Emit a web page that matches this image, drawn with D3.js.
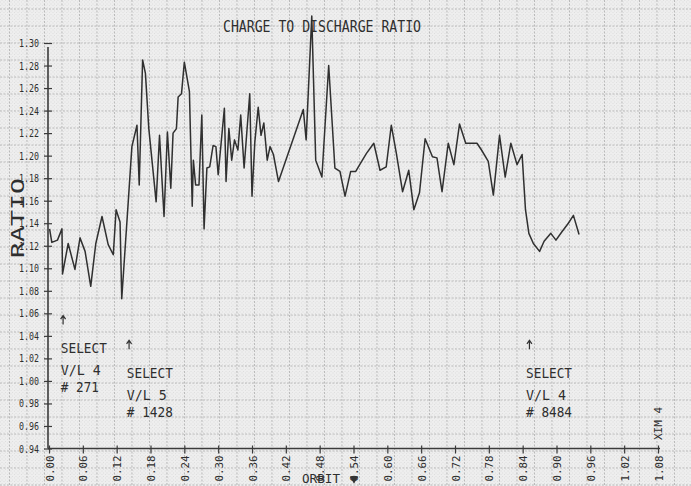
<!DOCTYPE html>
<html>
<head>
<meta charset="utf-8">
<script src="https://cdn.jsdelivr.net/npm/d3@7"></script>
<style>
  html, body { margin: 0; padding: 0; background: #eeeeee; }
  svg { display: block; }
  text { font-family: "DejaVu Sans Mono", "Liberation Mono", monospace; fill: #2e2e2e; }
</style>
</head>
<body>
<svg id="chart" width="691" height="486"></svg>
<script>
// ---------------- data ----------------
const orbit = [0.001,0.005,0.015,0.023,0.024,0.034,0.046,0.055,0.064,0.074,0.083,0.094,0.105,0.114,0.119,0.126,0.129,0.140,0.147,0.156,
  0.160,0.166,0.171,0.177,0.190,0.196,0.204,0.210,0.216,0.220,0.226,0.229,0.235,0.240,0.249,0.254,0.256,0.260,0.266,0.271,
  0.275,0.280,0.285,0.291,0.296,0.300,0.311,0.314,0.319,0.324,0.329,0.335,0.340,0.346,0.356,0.360,0.365,0.371,0.376,0.381,
  0.387,0.392,0.398,0.407,0.451,0.456,0.466,0.473,0.484,0.496,0.507,0.516,0.525,0.535,0.544,0.551,0.563,0.576,0.587,0.598,
  0.607,0.616,0.627,0.638,0.647,0.657,0.667,0.680,0.688,0.697,0.708,0.718,0.728,0.739,0.759,0.767,0.779,0.788,0.799,0.809,
  0.819,0.830,0.839,0.845,0.851,0.859,0.870,0.878,0.890,0.899,0.909,0.921,0.930,0.940];
const ratio = [1.135,1.123,1.125,1.135,1.095,1.122,1.099,1.127,1.115,1.084,1.122,1.146,1.121,1.112,1.152,1.141,1.073,1.155,1.208,1.227,
  1.174,1.285,1.273,1.224,1.159,1.218,1.146,1.221,1.171,1.220,1.224,1.252,1.255,1.283,1.257,1.155,1.196,1.174,1.174,1.236,
  1.135,1.189,1.190,1.209,1.208,1.183,1.242,1.177,1.224,1.196,1.214,1.205,1.236,1.189,1.255,1.164,1.212,1.243,1.218,1.229,
  1.196,1.208,1.201,1.177,1.241,1.214,1.324,1.196,1.181,1.280,1.189,1.186,1.164,1.186,1.186,1.192,1.202,1.211,1.187,1.190,
  1.227,1.202,1.168,1.187,1.152,1.167,1.215,1.199,1.198,1.168,1.211,1.192,1.228,1.211,1.211,1.205,1.195,1.165,1.218,1.181,
  1.211,1.192,1.201,1.152,1.131,1.122,1.115,1.124,1.131,1.125,1.132,1.140,1.147,1.130];
const yTicks = [0.94,0.96,0.98,1.00,1.02,1.04,1.06,1.08,1.10,1.12,1.14,1.16,1.18,1.20,1.22,1.24,1.26,1.28,1.30];
const xTicks = [0.00,0.06,0.12,0.18,0.24,0.30,0.36,0.42,0.48,0.54,0.60,0.66,0.72,0.78,0.84,0.90,0.96,1.02,1.08];
const titleText = "CHARGE TO DISCHARGE RATIO";
const yLabel = "RATIO";
const xLabel = "ORBIT";
const noteLines = [["SELECT","V/L 4","# 271"],["SELECT","V/L 5","# 1428"],["SELECT","V/L 4","# 8484"]];
const sideNote = "XIM 4";

// ---------------- layout ----------------
const W = 691, H = 486;
const svg = d3.select("#chart");
const x = d3.scaleLinear().domain([0, 1.08]).range([49, 658]);
const y = d3.scaleLinear().domain([0.94, 1.30]).range([448.5, 43]);

// paper background
svg.append("rect").attr("width", W).attr("height", H).attr("fill", "#eeeeee");
const paper = svg.append("g");
const fine = 3.5, gridStep = 17.5;
paper.selectAll("line.fv").data(d3.range(2, W, fine)).join("line")
  .attr("x1", d => d).attr("x2", d => d).attr("y1", 0).attr("y2", H)
  .attr("stroke", "#d4d4d4").attr("stroke-width", 0.6).attr("stroke-dasharray", "1,2.5");
paper.selectAll("line.fh").data(d3.range(2, H, fine)).join("line")
  .attr("y1", d => d).attr("y2", d => d).attr("x1", 0).attr("x2", W)
  .attr("stroke", "#d4d4d4").attr("stroke-width", 0.6).attr("stroke-dasharray", "1,2.5");
paper.selectAll("line.mv").data(d3.range(9.5, W, gridStep)).join("line")
  .attr("x1", d => d).attr("x2", d => d).attr("y1", 0).attr("y2", H)
  .attr("stroke", "#b4b4b4").attr("stroke-width", 0.9).attr("stroke-dasharray", "2,1.5");
paper.selectAll("line.mh").data(d3.range(9, H, 17)).join("line")
  .attr("y1", d => d).attr("y2", d => d).attr("x1", 0).attr("x2", W)
  .attr("stroke", "#b4b4b4").attr("stroke-width", 0.9).attr("stroke-dasharray", "2,1.5");

// axes
const axisColor = "#3a3a3a";
const gy = svg.append("g").attr("transform", `translate(${x(0) - 1},0)`)
  .call(d3.axisLeft(y).tickValues(yTicks).tickFormat(d3.format(".2f")).tickSize(4).tickPadding(5));
gy.select(".domain").attr("stroke", axisColor).attr("stroke-width", 1.6).attr("d", `M0,${y(1.30) + 4}V${y(0.94)}`);
gy.selectAll(".tick line").attr("x1", -4).attr("x2", 4).attr("stroke", axisColor).attr("stroke-width", 1.2);
gy.selectAll(".tick text").attr("font-size", 11).attr("textLength", 20).attr("lengthAdjust", "spacingAndGlyphs")
  .attr("fill", "#333").attr("font-family", "DejaVu Sans Mono");

const gx = svg.append("g").attr("transform", `translate(0,${y(0.94)})`)
  .call(d3.axisBottom(x).tickValues(xTicks).tickFormat(d3.format(".2f")).tickSize(4));
gx.select(".domain").attr("stroke", axisColor).attr("stroke-width", 1.6).attr("d", `M${x(0) - 1},0H${x(1.08) + 2}`);
gx.selectAll(".tick line").attr("y1", -3).attr("y2", 5).attr("stroke", axisColor).attr("stroke-width", 1.2);
gx.selectAll(".tick text")
  .attr("transform", "translate(4,33) rotate(-90)")
  .attr("y", 0).attr("dy", 0).attr("text-anchor", "start")
  .attr("font-size", 11).attr("textLength", 26).attr("lengthAdjust", "spacingAndGlyphs")
  .attr("fill", "#333").attr("font-family", "DejaVu Sans Mono");

// data line
const line = d3.line().x((d, i) => x(orbit[i])).y((d, i) => y(ratio[i]));
svg.append("path").datum(ratio).attr("d", line)
  .attr("fill", "none").attr("stroke", "#303030").attr("stroke-width", 1.5).attr("stroke-linejoin", "round");

// title
svg.append("text").attr("x", 223).attr("y", 31.5).text(titleText)
  .attr("font-size", 15).attr("textLength", 198).attr("lengthAdjust", "spacingAndGlyphs");

// y label
svg.append("text").attr("transform", `translate(24,258) rotate(-90)`).text(yLabel)
  .attr("font-size", 17).attr("textLength", 80).attr("lengthAdjust", "spacingAndGlyphs");

// x label
svg.append("text").attr("x", 302).attr("y", 483).text(xLabel)
  .attr("font-size", 13).attr("textLength", 38).attr("lengthAdjust", "spacingAndGlyphs");
svg.append("path").attr("d", d3.symbol(d3.symbolTriangle, 30)())
  .attr("transform", `translate(${x(0.54) + 0.5},479) rotate(180)`).attr("fill", "#333");

// SELECT annotations (anchored to orbit positions, ratio rows)
const noteAnchors = [[0.021, 1.025], [0.138, 1.003], [0.846, 1.003]];
const arrowAt = [[0.025, 1.058], [0.142, 1.036], [0.852, 1.036]];
noteLines.forEach((lines, k) => {
  const [ox, oy] = noteAnchors[k];
  const gx0 = x(ox), gy0 = y(oy);
  const widths = [46, 40, k === 0 ? 38 : 46];
  lines.forEach((t, j) => {
    svg.append("text").attr("x", gx0).attr("y", gy0 + j * 22 + (j === 2 ? -5 : 0))
      .text(t).attr("font-size", 13.5).attr("textLength", widths[j]).attr("lengthAdjust", "spacingAndGlyphs");
  });
  const ax = x(arrowAt[k][0]), ay = y(arrowAt[k][1]);
  svg.append("path").attr("d", `M${ax},${ay}V${ay + 9}M${ax - 2.5},${ay + 3.5}L${ax},${ay}L${ax + 2.5},${ay + 3.5}`)
    .attr("stroke", "#333").attr("stroke-width", 1.2).attr("fill", "none");
});

// side note by the last tick
svg.append("text").attr("transform", `translate(${x(1.08) + 4},440) rotate(-90)`).text(sideNote)
  .attr("font-size", 11).attr("textLength", 33).attr("lengthAdjust", "spacingAndGlyphs");
</script>
</body>
</html>
